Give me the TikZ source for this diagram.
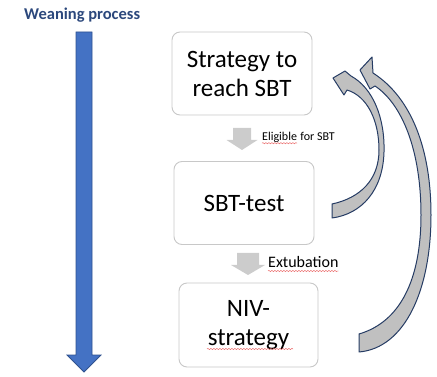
\documentclass[tikz,border=0pt]{standalone}
\usepackage{fontspec}
\setmainfont{Carlito}
\usetikzlibrary{decorations.pathmorphing}

\definecolor{titleblue}{RGB}{44,72,124}
\definecolor{arrowblue}{RGB}{68,114,196}
\definecolor{arrowedge}{RGB}{47,82,143}
\definecolor{boxline}{RGB}{200,200,200}
\definecolor{stepgray}{RGB}{204,204,204}
\definecolor{loopfill}{RGB}{192,192,192}
\definecolor{loopedge}{RGB}{38,60,100}
\definecolor{spellred}{RGB}{232,90,90}

\begin{document}
\begin{tikzpicture}[x=1pt,y=-1pt,
  stagebox/.style={draw=boxline, line width=0.9pt, rounded corners=8pt, fill=white,
    minimum width=140pt, minimum height=83pt, align=center, inner sep=0pt,
    font=\fontsize{25}{29}\selectfont},
  steplabel/.style={anchor=base west, inner sep=0pt, font=\fontsize{12}{14}\selectfont},
  steparrow/.style={fill=stepgray},
  loopband/.style={fill=loopfill, draw=loopedge, line width=1pt, line join=round},
  spell/.style={draw=spellred, line width=0.45pt,
    decorate, decoration={snake, segment length=3pt, amplitude=0.6pt}}]

\useasboundingbox (0,0) rectangle (437,377);

% title and the long downward process arrow
\node[anchor=base west, inner sep=0pt, text=titleblue,
  font=\bfseries\fontsize{16.5}{19}\selectfont] (title) at (24,20) {Weaning process};
\filldraw[fill=arrowblue, draw=arrowedge, line width=0.8pt]
  (76,32) -- (92,32) -- (92,355) -- (101,355) -- (84,372) -- (67,355) -- (76,355) -- cycle;

% the three stages
\node[stagebox] (reach) at (242,73.5) {Strategy to\\reach SBT};
\node[stagebox] (sbt) at (244,203) {SBT-test};
\node[stagebox, minimum width=139pt, minimum height=84pt] (niv) at (248.5,325) {NIV-\\strategy};

% short gray arrows between stages
\fill[steparrow] (233,128) -- (251,128) -- (251,140) -- (257.5,140) -- (242,150)
  -- (226.5,140) -- (233,140) -- cycle;
\fill[steparrow] (237,253) -- (259,253) -- (259,265) -- (265,265) -- (248,275)
  -- (231,265) -- (237,265) -- cycle;

% transition labels
\node[steplabel] (elig) at (262,140.7) {Eligible};
\node[steplabel] (eligrest) at ([xshift=3pt]elig.base east) {for SBT};
\node[steplabel, font=\fontsize{16}{19}\selectfont] (extub) at (268,268) {Extubation};

% curved return arrows
\filldraw[loopband] (332,204) .. controls (360,198) and (379,180) .. (379,150)
  .. controls (379,120) and (367,96) .. (347,90) -- (344,95) -- (333,78) -- (345,71)
  -- (351,76) .. controls (373,88) and (385,118) .. (384,152)
  .. controls (383,190) and (362,214) .. (332,218) -- cycle;
\filldraw[loopband] (359,334) .. controls (400,322) and (421,280) .. (421,215)
  .. controls (421,150) and (402,104) .. (375,86) -- (370,89) -- (360,70) -- (372,57)
  -- (373,73) .. controls (412,98) and (431,150) .. (431,215)
  .. controls (431,290) and (405,348) .. (359,352) -- cycle;

% spell-check underlines
\draw[spell] ([yshift=-2.5pt]elig.base west) -- ([yshift=-2.5pt]elig.base east);
\draw[spell] ([yshift=-3pt]extub.base west) -- ([yshift=-3pt]extub.base east);
\coordinate (sw) at (207,349);
\coordinate (se) at (293,349);
\draw[spell] (sw) -- (se);
\end{tikzpicture}
\end{document}
